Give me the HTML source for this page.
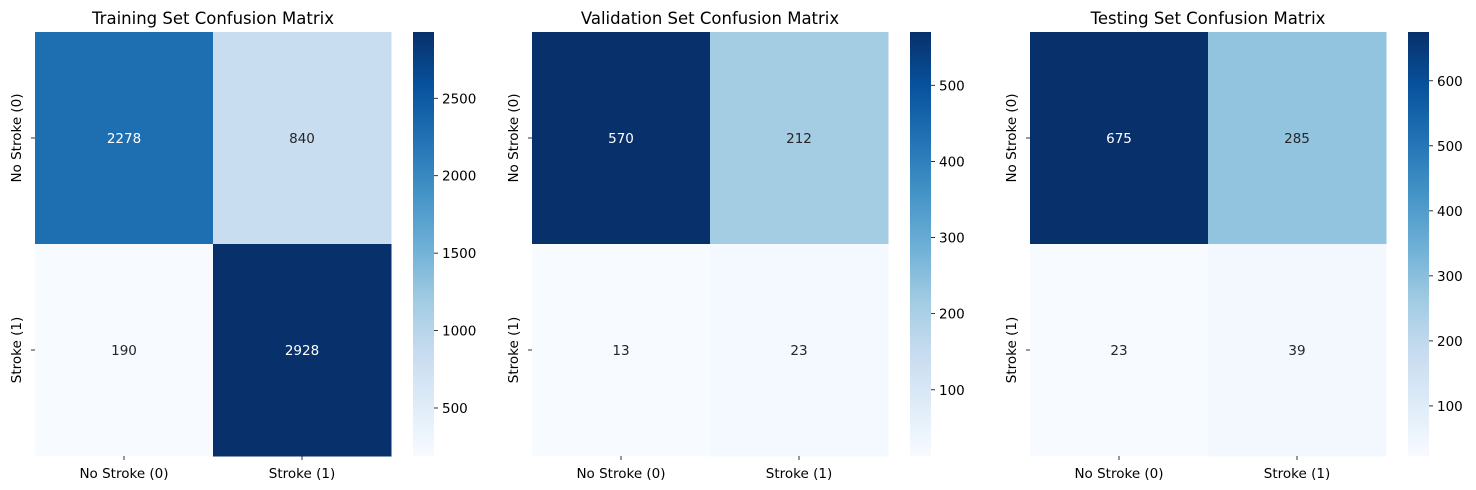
<!DOCTYPE html>
<html><head><meta charset="utf-8"><style>
body{margin:0;background:#fff;}
svg{display:block;font-family:"DejaVu Sans","Liberation Sans",sans-serif;}
</style></head><body>
<svg id="chart" width="1476" height="490"></svg>
<script>
const panelTitles = ["Training Set Confusion Matrix","Validation Set Confusion Matrix","Testing Set Confusion Matrix"];
const classLabels = ["No Stroke (0)","Stroke (1)"];
const trainValues = [[2278,840],[190,2928]];
const valValues = [[570,212],[13,23]];
const testValues = [[675,285],[23,39]];
const trainTicks = [500,1000,1500,2000,2500];
const valTicks = [100,200,300,400,500];
const testTicks = [100,200,300,400,500,600];

const NS="http://www.w3.org/2000/svg";
const svgEl=document.getElementById('chart');
const stops=["#f7fbff","#deebf7","#c6dbef","#9ecae1","#6baed6","#4292c6","#2171b5","#08519c","#08306b"];
function hex(h){return [1,3,5].map(i=>parseInt(h.substr(i,2),16));}
function blues(t){t=Math.max(0,Math.min(1,t));const p=t*8,i=Math.min(7,Math.floor(p)),f=p-i;const a=hex(stops[i]),b=hex(stops[i+1]);return a.map((v,k)=>Math.round(v+(b[k]-v)*f));}
function rgb(c){return `rgb(${c[0]},${c[1]},${c[2]})`;}
function mk(tag,attrs,parent){const e=document.createElementNS(NS,tag);for(const k in attrs)e.setAttribute(k,attrs[k]);(parent||svgEl).appendChild(e);return e;}

const datasets=[trainValues,valValues,testValues];
const tickSets=[trainTicks,valTicks,testTicks];
const lefts=[35,532,1030];
const plotTop=32,plotH=424,plotW=356;
const FS=13.5;
datasets.forEach((vals,p)=>{
  const flat=vals.flat();const vmin=Math.min(...flat),vmax=Math.max(...flat);
  const norm=v=>(v-vmin)/(vmax-vmin);
  const x0=lefts[p];
  const g=mk('g',{});
  
  
  const t=mk('text',{x:x0+plotW/2,y:24,'text-anchor':'middle','font-size':16.5,fill:'#000'},g);
  t.textContent=panelTitles[p];
  
  
  const cw=plotW/2,ch=plotH/2;
  vals.forEach((row,r)=>row.forEach((v,c)=>{
    const col=blues(norm(v));
    const rc=mk('rect',{x:x0+c*cw,y:plotTop+r*ch,width:cw+0.5,height:ch+0.5,fill:rgb(col)},g);
    
    
    const lum=(0.299*col[0]+0.587*col[1]+0.114*col[2]);
    const tx=mk('text',{x:x0+(c+0.5)*cw,y:plotTop+(r+0.5)*ch+5,'text-anchor':'middle','font-size':FS,fill:lum<128?'#fff':'#262626'},g);
    tx.textContent=v;
    
    
  }));
  classLabels.forEach((lab,i)=>{
    const cx=x0+(i+0.5)*cw;
    mk('line',{x1:cx,y1:plotTop+plotH,x2:cx,y2:plotTop+plotH+4,stroke:'#000','stroke-width':0.8},g);
    const xl=mk('text',{x:cx,y:plotTop+plotH+22,'text-anchor':'middle','font-size':FS,fill:'#000'},g);
    xl.textContent=lab;
    
    
    const cy=plotTop+(i+0.5)*ch;
    mk('line',{x1:x0-4,y1:cy,x2:x0,y2:cy,stroke:'#000','stroke-width':0.8},g);
    const yl=mk('text',{x:x0-14,y:cy,'text-anchor':'middle','font-size':FS,fill:'#000',transform:`rotate(-90 ${x0-14} ${cy})`},g);
    yl.textContent=lab;
    
    
  });
  const cbx=x0+plotW+22,cbw=21;
  const gid='grad'+p;
  const defs=mk('defs',{},g);
  const lg=mk('linearGradient',{id:gid,x1:0,y1:1,x2:0,y2:0},defs);
  stops.forEach((s,i)=>mk('stop',{offset:i/8,'stop-color':s},lg));
  const cb=mk('rect',{x:cbx,y:plotTop,width:cbw,height:plotH,fill:`url(#${gid})`},g);
  
  
  tickSets[p].forEach(tv=>{
    const y=plotTop+plotH*(1-norm(tv));
    mk('line',{x1:cbx+cbw,y1:y,x2:cbx+cbw+4,y2:y,stroke:'#000','stroke-width':0.8},g);
    const tl=mk('text',{x:cbx+cbw+8,y:y+5,'font-size':FS,fill:'#000'},g);
    tl.textContent=tv;
    
    
  });
});
</script>
</body></html>
